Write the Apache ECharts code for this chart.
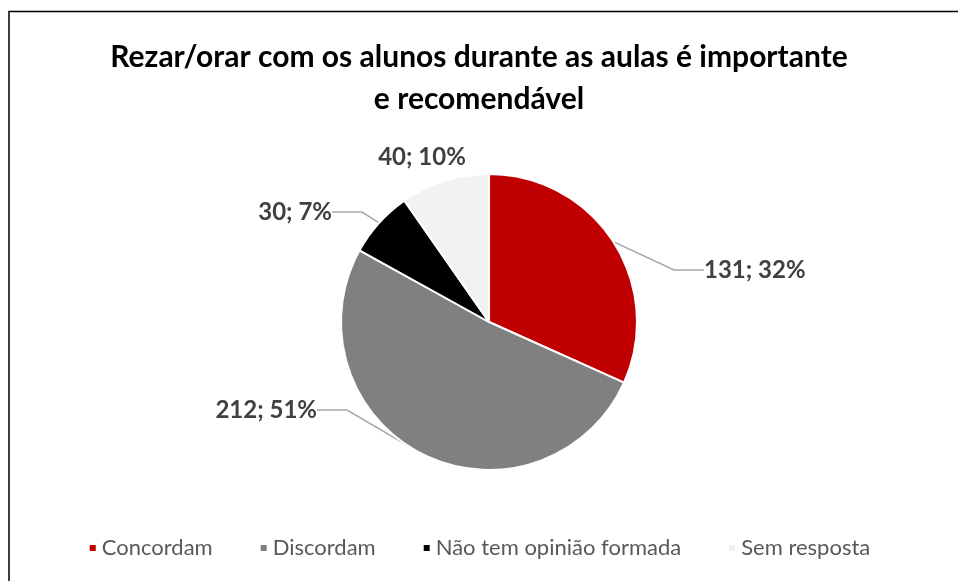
<!DOCTYPE html>
<html>
<head>
<meta charset="utf-8">
<script src="https://cdn.jsdelivr.net/npm/echarts@6/dist/echarts.min.js"></script>
<style>
  html, body { margin: 0; padding: 0; background: #fff; }
  #main { width: 958px; height: 581px; }
</style>
</head>
<body>
<div id="main"></div>
<script>
const categories = ["Concordam", "Discordam", "Não tem opinião formada", "Sem resposta"];
const counts = [131, 212, 30, 40];
const percents = [32, 51, 7, 10];
const colors = ["#C00000", "#808080", "#000000", "#F2F2F2"];

// where each data label sits (x, y, text alignment)
const labelSpots = [
  { x: 704, y: 270, align: "left" },
  { x: 317, y: 410, align: "right" },
  { x: 332, y: 212, align: "right" },
  { x: 422, y: 157, align: "center" },
];

const chart = echarts.init(document.getElementById("main"));

const option = {
  animation: false,
  textStyle: { fontFamily: "Lato" },
  graphic: [
    {
      type: "rect",
      shape: { x: 9, y: 11.5, width: 970, height: 590 },
      style: { fill: "none", stroke: "#000", lineWidth: 1.5 },
      silent: true,
    },
  ],
  title: {
    text: "Rezar/orar com os alunos durante as aulas é importante\ne recomendável",
    left: "center",
    top: 31,
    textStyle: {
      fontFamily: "Lato",
      fontSize: 30,
      fontWeight: "bold",
      color: "#000",
      lineHeight: 42,
    },
  },
  legend: {
    bottom: 17,
    left: "center",
    icon: "rect",
    itemWidth: 8,
    itemHeight: 8,
    itemGap: 46,
    selectedMode: false,
    textStyle: { fontSize: 22, color: "#595959", fontFamily: "Lato" },
    data: categories,
  },
  series: [
    {
      type: "pie",
      center: [489, 322],
      radius: 148,
      startAngle: 90,
      clockwise: true,
      itemStyle: { borderColor: "#fff", borderWidth: 2 },
      label: {
        show: true,
        formatter: (p) => counts[p.dataIndex] + "; " + percents[p.dataIndex] + "%",
        fontSize: 24,
        fontWeight: "bold",
        color: "#404040",
        fontFamily: "Lato",
      },
      labelLine: {
        show: true,
        lineStyle: { color: "#A6A6A6", width: 1.5 },
      },
      labelLayout: (params) => {
        const s = labelSpots[params.dataIndex];
        return { x: s.x, y: s.y, align: s.align, verticalAlign: "middle" };
      },
      data: categories.map((name, i) => ({
        name: name,
        value: counts[i],
        itemStyle: { color: colors[i] },
        labelLine: i === 3 ? { show: false } : undefined,
      })),
    },
  ],
};

chart.setOption(option);
</script>
</body>
</html>
